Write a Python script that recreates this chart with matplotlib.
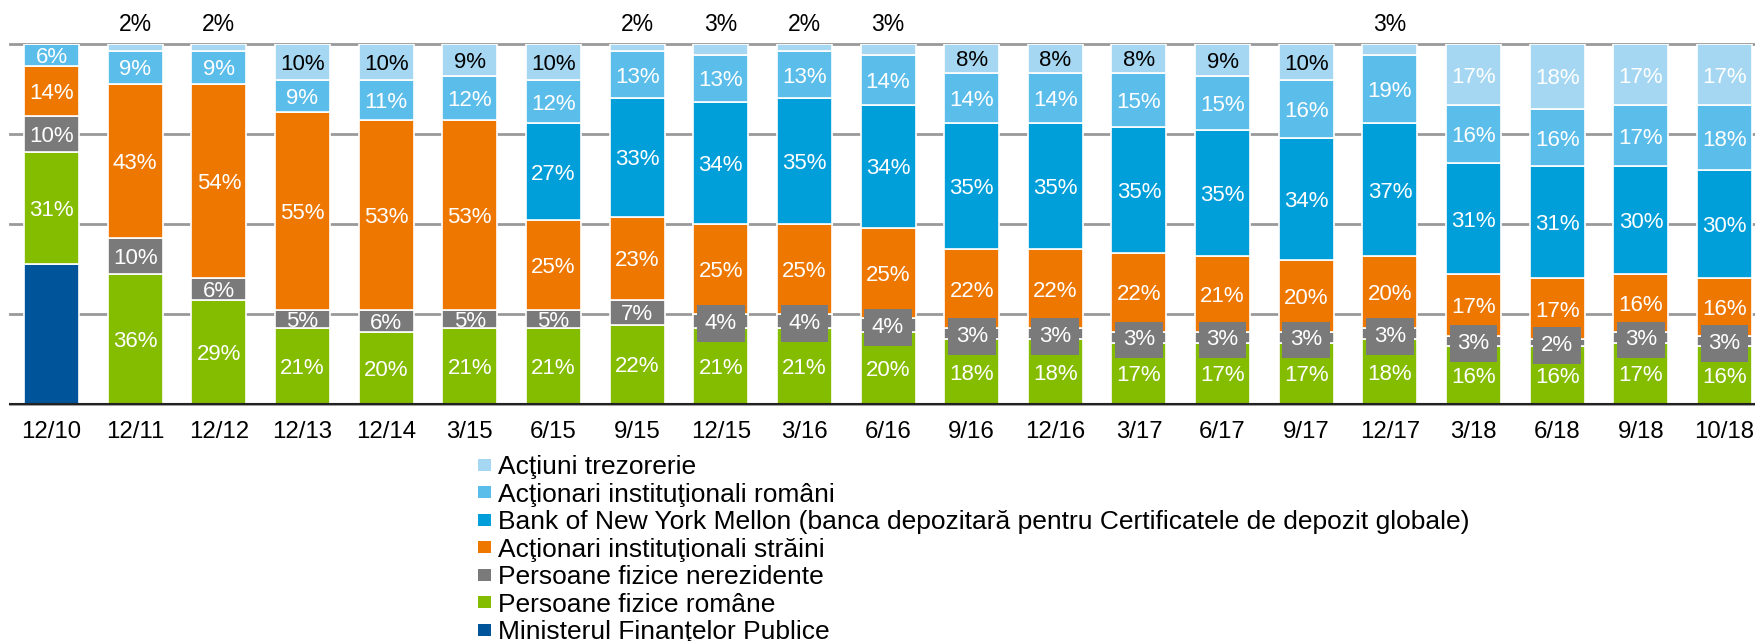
import matplotlib
matplotlib.use('Agg')
import matplotlib.pyplot as plt
from matplotlib.patches import Rectangle
import numpy as np

categories = ['12/10', '12/11', '12/12', '12/13', '12/14', '3/15', '6/15', '9/15', '12/15', '3/16', '6/16',
              '9/16', '12/16', '3/17', '6/17', '9/17', '12/17', '3/18', '6/18', '9/18', '10/18']

# bottom -> top
mfp          = [39, 0, 0, 0, 0, 0, 0, 0, 0, 0, 0, 0, 0, 0, 0, 0, 0, 0, 0, 0, 0]
pf_romane    = [31, 36, 29, 21, 20, 21, 21, 22, 21, 21, 20, 18, 18, 17, 17, 17, 18, 16, 16, 17, 16]
pf_nerez     = [10, 10, 6, 5, 6, 5, 5, 7, 4, 4, 4, 3, 3, 3, 3, 3, 3, 3, 2, 3, 3]
inst_straini = [14, 43, 54, 55, 53, 53, 25, 23, 25, 25, 25, 22, 22, 22, 21, 20, 20, 17, 17, 16, 16]
bny          = [0, 0, 0, 0, 0, 0, 27, 33, 34, 35, 34, 35, 35, 35, 35, 34, 37, 31, 31, 30, 30]
inst_romani  = [6, 9, 9, 9, 11, 12, 12, 13, 13, 13, 14, 14, 14, 15, 15, 16, 19, 16, 16, 17, 18]
trezorerie   = [0, 2, 2, 10, 10, 9, 10, 2, 3, 2, 3, 8, 8, 8, 9, 10, 3, 17, 18, 17, 17]

series = [
    ('Ministerul Finanţelor Publice', mfp, '#00559a'),
    ('Persoane fizice române', pf_romane, '#84bc00'),
    ('Persoane fizice nerezidente', pf_nerez, '#7a7a7a'),
    ('Acţionari instituţionali străini', inst_straini, '#ee7700'),
    ('Bank of New York Mellon (banca depozitară pentru Certificatele de depozit globale)', bny, '#009fda'),
    ('Acţionari instituţionali români', inst_romani, '#5bbdea'),
    ('Acţiuni trezorerie', trezorerie, '#a6d7f2'),
]

plt.rcParams['font.family'] = ['Liberation Sans', 'DejaVu Sans']

W, H = 1756, 641
fig = plt.figure(figsize=(W / 100, H / 100), dpi=100)
ax = fig.add_axes([9.7 / W, 237 / H, 21 * 83.65 / W, 360 / H])

x = np.arange(len(categories))
bottom = np.zeros(len(categories))
for name, vals, col in series:
    vals = np.array(vals, dtype=float)
    ax.bar(x, vals, 0.657, bottom=bottom, color=col, edgecolor='white', linewidth=1.2, zorder=3)
    for i, v in enumerate(vals):
        if v <= 0 or name.startswith('Ministerul'):
            continue
        yc = bottom[i] + v / 2
        lbl = f'{v:.0f}%'
        if name == 'Acţiuni trezorerie':
            if v < 4:
                ax.text(i, 106, lbl, ha='center', va='center_baseline', fontsize=16.5, color='black', clip_on=False)
            else:
                ax.text(i, yc, lbl, ha='center', va='center_baseline', fontsize=16,
                        color='black' if v <= 10 else 'white', zorder=5)
        elif name == 'Persoane fizice nerezidente' and v <= 4:
            ax.text(i, yc, lbl, ha='center', va='center_baseline', fontsize=16, color='white', zorder=5,
                    bbox=dict(boxstyle='square,pad=0.35', facecolor=col, edgecolor='none'))
        else:
            ax.text(i, yc, lbl, ha='center', va='center_baseline', fontsize=16, color='white', zorder=5)
    bottom += vals

ax.set_xlim(-0.5, len(categories) - 0.5)
ax.set_ylim(0, 100)
ax.set_yticks([0, 25, 50, 75, 100])
ax.set_yticklabels([])
ax.tick_params(axis='y', length=0)
ax.tick_params(axis='x', length=0, pad=12.5)
ax.set_xticks(x)
ax.set_xticklabels(categories, fontsize=17.3)
ax.grid(axis='y', color='#999999', linewidth=2, zorder=0)
ax.set_axisbelow(True)
for gl in ax.get_ygridlines():
    gl.set_clip_on(False)
for s in ['top', 'left', 'right']:
    ax.spines[s].set_visible(False)
ax.spines['bottom'].set_color('#222222')
ax.spines['bottom'].set_linewidth(1.5)
ax.spines['bottom'].set_zorder(4)

# legend, one column, top entry = top series
row0, row_step = 464.7, 27.55
for k, (name, _, col) in enumerate(series[::-1]):
    yc = row0 + k * row_step
    fig.patches.append(Rectangle((478 / W, 1 - (yc + 6) / H), 13 / W, 12 / H,
                                 transform=fig.transFigure, facecolor=col, edgecolor='none'))
    fig.text(498 / W, 1 - yc / H, name, ha='left', va='center_baseline', fontsize=19)

fig.savefig('out.png', dpi=100)
